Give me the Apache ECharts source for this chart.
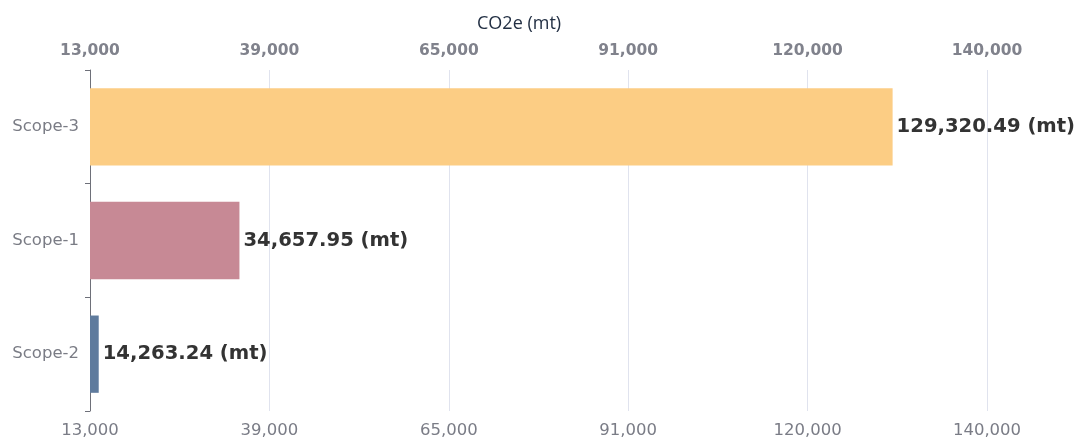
<!DOCTYPE html>
<html><head><meta charset="utf-8">
<script src="https://cdn.jsdelivr.net/npm/echarts@6/dist/echarts.min.js"></script>
<style>html,body{margin:0;padding:0;background:#fff}#c{width:1080px;height:439px}</style>
</head><body><div id="c"></div>
<script>
const categories = ['Scope-2', 'Scope-1', 'Scope-3'];
const values = [14263.24, 34657.95, 129320.49];
const barColors = ['#5f7b9d', '#c78995', '#fccd84'];
const axisMin = 13000, axisMax = 143000, axisStep = 26000;
const axisName = 'CO2e (mt)';

function fmtTick(v) {
  return Number(Number(v).toPrecision(2)).toLocaleString('en-US');
}
function fmtVal(v) {
  return v.toLocaleString('en-US', {minimumFractionDigits: 2, maximumFractionDigits: 2}) + ' (mt)';
}
const chart = echarts.init(document.getElementById('c'));
const labelBase = {formatter: fmtTick, fontSize: 16, fontFamily: 'DejaVu Sans', fontWeight: 'normal'};
chart.setOption({
  animation: false,
  textStyle: {fontFamily: 'DejaVu Sans'},
  title: {text: axisName, left: 472, top: 10,
    textStyle: {fontSize: 18, fontWeight: 'normal', color: '#233044', fontFamily: 'Open Sans'}},
  grid: {left: 90, right: 93, top: 70, bottom: 23},
  xAxis: [
    {type: 'value', position: 'top', min: axisMin, max: axisMax, interval: axisStep,
      axisLine: {show: false}, axisTick: {show: false},
      splitLine: {show: true, lineStyle: {color: '#e0e3ee'}},
      axisLabel: Object.assign({}, labelBase, {color: '#80828c', fontWeight: 'bold', fontSize: 15.5, margin: 11})},
    {type: 'value', position: 'bottom', min: axisMin, max: axisMax, interval: axisStep,
      axisLine: {show: false}, axisTick: {show: false},
      splitLine: {show: false},
      axisLabel: Object.assign({}, labelBase, {color: '#7a7c86', fontSize: 16.5, margin: 11})}
  ],
  yAxis: {
    type: 'category', data: categories,
    axisLine: {show: true, lineStyle: {color: '#6e7079'}},
    axisTick: {show: true, length: 5},
    axisLabel: {fontSize: 16.5, color: '#7a7c85', fontFamily: 'DejaVu Sans', margin: 11}
  },
  series: [{
    type: 'bar', xAxisIndex: 0, barWidth: '68%',
    data: values.map((v, i) => ({value: v, itemStyle: {color: barColors[i]}})),
    label: {show: true, position: 'right', distance: 4, formatter: p => fmtVal(p.value),
      fontSize: 19.6, fontWeight: 'bold', color: '#333', fontFamily: 'DejaVu Sans'}
  }]
});
</script></body></html>
